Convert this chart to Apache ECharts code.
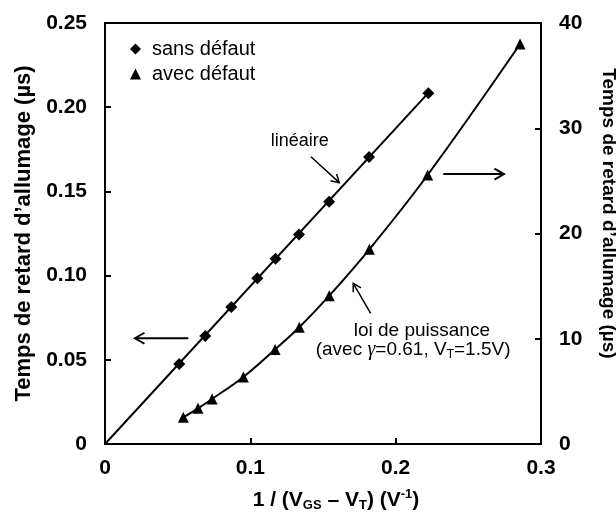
<!DOCTYPE html>
<html><head><meta charset="utf-8">
<script src="https://cdn.jsdelivr.net/npm/echarts@6/dist/echarts.min.js"></script>
<style>html,body{margin:0;padding:0;background:#fff}#c{width:616px;height:516px}</style>
</head><body><div id="c"></div>
<script>
// Data
const xSans = [0.0511, 0.0690, 0.0869, 0.1048, 0.1173, 0.1335, 0.1542, 0.1817, 0.2225];
const ySans = [0.0475, 0.0641, 0.0814, 0.0984, 0.1100, 0.1244, 0.1439, 0.1704, 0.2083];
const xAvec = [0.0539, 0.0640, 0.0737, 0.0952, 0.1170, 0.1337, 0.1543, 0.1819, 0.2220, 0.2856];
const yAvec = [2.54, 3.39, 4.28, 6.37, 8.99, 11.09, 14.09, 18.50, 25.56, 38.0];
const xFit = [0, 0.2225];
const yFit = [0, 0.2085];
const xTicks = [0, 0.1, 0.2, 0.3];
const yLeftTicks = [0, 0.05, 0.10, 0.15, 0.20, 0.25];
const yRightTicks = [0, 10, 20, 30, 40];
const legendNames = ['sans défaut', 'avec défaut'];

const FONT = '"Liberation Sans", Arial, sans-serif';
const chart = echarts.init(document.getElementById('c'), null, {renderer: 'canvas'});
const axisCommon = {
  axisLine: {show: true, lineStyle: {color: '#000', width: 2}},
  axisTick: {show: true, inside: true, length: 6, lineStyle: {color: '#000', width: 2}},
  splitLine: {show: false},
};
const option = {
  animation: false,
  color: ['#000'],
  grid: {left: 105, right: 75, top: 23, bottom: 72, show: true, borderColor: '#000', borderWidth: 2,
    containLabel: false, outerBoundsMode: 'none'},
  legend: {
    orient: 'vertical', left: 125, top: 34, itemWidth: 11, itemHeight: 11, itemGap: 5,
    data: [{name: legendNames[0], icon: 'diamond'}, {name: legendNames[1], icon: 'triangle'}],
    textStyle: {fontFamily: FONT, fontSize: 20, color: '#000', padding: [0, 0, 0, 6]}
  },
  xAxis: Object.assign({
    type: 'value', min: xTicks[0], max: xTicks[xTicks.length - 1], interval: 0.1,
    axisLabel: {fontFamily: FONT, fontSize: 21, fontWeight: 'bold', color: '#000', margin: 14,
      formatter: v => v === 0 ? '0' : v.toFixed(1)},
    name: '1 / (V{sub|GS} – V{sub|T}) (V{sup|-1})',
    nameLocation: 'middle', nameGap: 44,
    nameTextStyle: {fontFamily: FONT, fontSize: 21, fontWeight: 'bold', color: '#000', lineHeight: 24,
      padding: [0, 0, 0, 26],
      rich: {
        sub: {fontFamily: FONT, fontSize: 13, fontWeight: 'bold', lineHeight: 13, verticalAlign: 'bottom', color: '#000'},
        sup: {fontFamily: FONT, fontSize: 13, fontWeight: 'bold', lineHeight: 13, verticalAlign: 'top', color: '#000'}
      }}
  }, axisCommon),
  yAxis: [
    Object.assign({
      type: 'value', position: 'left', min: yLeftTicks[0], max: yLeftTicks[yLeftTicks.length - 1], interval: 0.05,
      axisLabel: {fontFamily: FONT, fontSize: 21, fontWeight: 'bold', color: '#000', margin: 18,
        formatter: v => v === 0 ? '0' : v.toFixed(2)},
      name: 'Temps de retard d’allumage (µs)', nameLocation: 'middle', nameGap: 70,
      nameTextStyle: {fontFamily: FONT, fontSize: 22, fontWeight: 'bold', color: '#000'}
    }, axisCommon),
    Object.assign({
      type: 'value', position: 'right', min: yRightTicks[0], max: yRightTicks[yRightTicks.length - 1], interval: 10,
      axisLabel: {fontFamily: FONT, fontSize: 21, fontWeight: 'bold', color: '#000', margin: 18},
      name: 'Temps de retard d’allumage (µs)', nameLocation: 'middle', nameGap: 58, nameRotate: -90,
      nameTextStyle: {fontFamily: FONT, fontSize: 19, fontWeight: 'bold', color: '#000', padding: [0, 40, 0, 0]}
    }, axisCommon)
  ],
  series: [
    {name: 'fit', type: 'line', data: xFit.map((x, i) => [x, yFit[i]]), symbol: 'none',
      lineStyle: {color: '#000', width: 2}, z: 2},
    {name: legendNames[0], type: 'scatter', data: xSans.map((x, i) => [x, ySans[i]]),
      symbol: 'diamond', symbolSize: 12, itemStyle: {color: '#000', opacity: 1}, z: 5},
    {name: legendNames[1], type: 'line', yAxisIndex: 1, smooth: 0.4,
      data: xAvec.map((x, i) => [x, yAvec[i]]), symbol: 'triangle', symbolSize: 11, showAllSymbol: true,
      itemStyle: {color: '#000', opacity: 1}, lineStyle: {color: '#000', width: 2}, z: 5}
  ]
};
chart.setOption(option);

// Annotations in data coordinates (left axis)
const toPx = p => chart.convertToPixel({xAxisIndex: 0, yAxisIndex: 0}, p);
function arrow(from, to, width, head) {
  const a = toPx(from), b = toPx(to);
  const ang = Math.atan2(b[1] - a[1], b[0] - a[0]);
  const h = head, s = Math.PI / 6;
  const h1 = [b[0] - h * Math.cos(ang - s), b[1] - h * Math.sin(ang - s)];
  const h2 = [b[0] - h * Math.cos(ang + s), b[1] - h * Math.sin(ang + s)];
  return [
    {type: 'line', shape: {x1: a[0], y1: a[1], x2: b[0], y2: b[1]}, style: {stroke: '#000', lineWidth: width}},
    {type: 'polyline', shape: {points: [h1, b, h2]}, style: {stroke: '#000', lineWidth: width, fill: null}}
  ];
}
function label(pos, text, size, rich) {
  const p = toPx(pos);
  return {type: 'text', x: p[0], y: p[1], style: {text: text, fontFamily: FONT, fontSize: size, fill: '#000',
    align: 'center', verticalAlign: 'middle', lineHeight: 22, rich: rich || {}}};
}
const g = [].concat(
  arrow([0.1417, 0.1706], [0.1612, 0.1552], 1.5, 9),
  arrow([0.0573, 0.0628], [0.0206, 0.0628], 2, 11),
  arrow([0.2328, 0.1603], [0.2745, 0.1603], 2, 11),
  arrow([0.1828, 0.0776], [0.1708, 0.0954], 1.5, 9),
  [label([0.1340, 0.1799], 'linéaire', 18),
   label([0.2180, 0.0673], 'loi de puissance', 19),
   label([0.2120, 0.0560], '(avec {g|γ}=0.61, V{s|T}=1.5V)', 19, {
     g: {fontFamily: '"Liberation Serif", serif', fontStyle: 'italic', fontSize: 20, fill: '#000'},
     s: {fontFamily: FONT, fontSize: 12, verticalAlign: 'bottom', lineHeight: 14, fill: '#000'}})]
);
chart.setOption({graphic: g});
</script></body></html>
